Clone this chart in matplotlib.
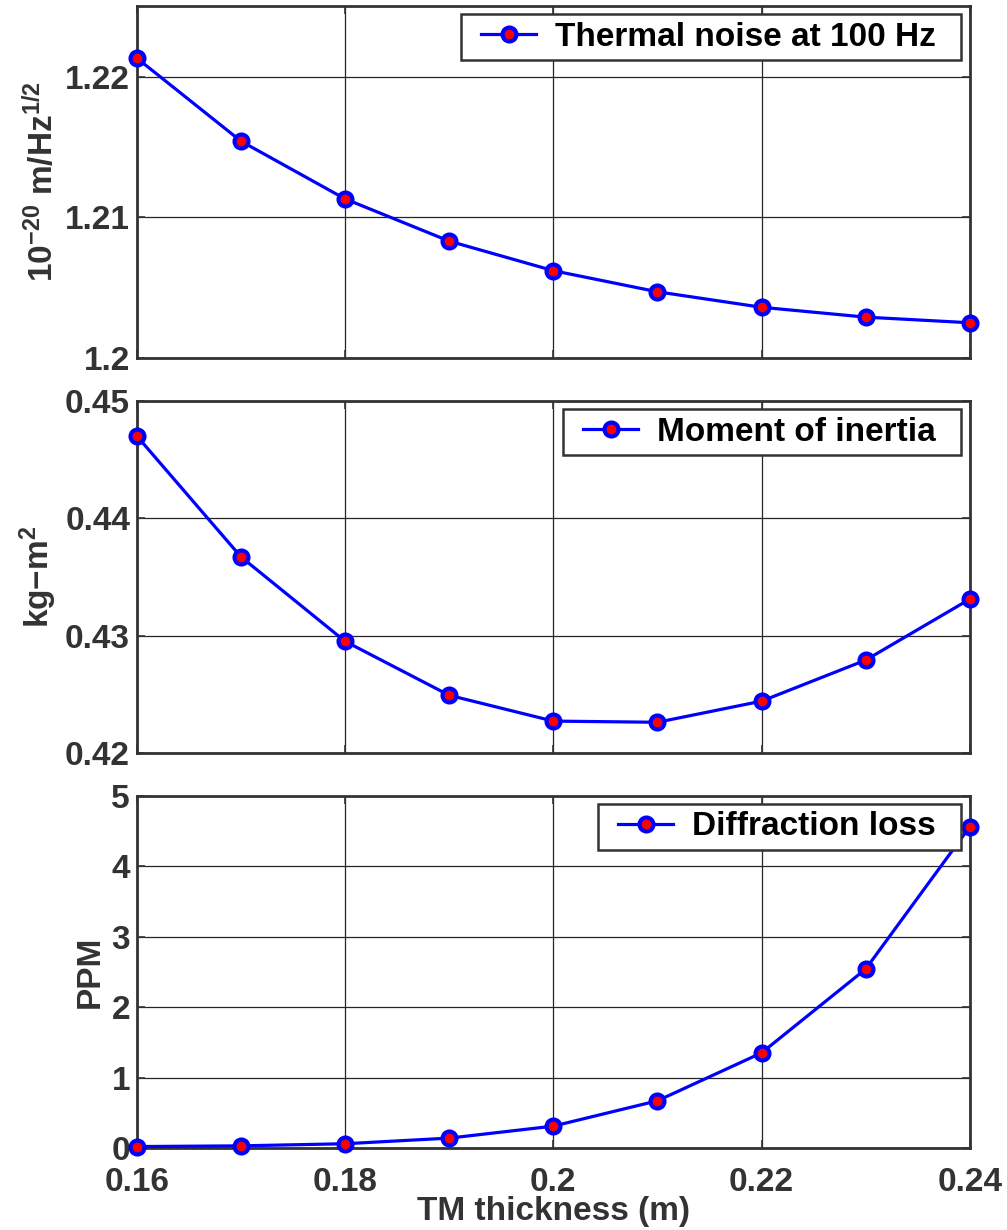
import numpy as np
import matplotlib
matplotlib.use("Agg")
import matplotlib.pyplot as plt
from matplotlib.legend_handler import HandlerLine2D

plt.rcParams['font.family'] = ['Liberation Sans', 'DejaVu Sans']
plt.rcParams['font.weight'] = 'bold'
plt.rcParams['mathtext.fontset'] = 'custom'
plt.rcParams['mathtext.rm'] = 'Liberation Sans:bold'
plt.rcParams['mathtext.bf'] = 'Liberation Sans:bold'
plt.rcParams['mathtext.it'] = 'Liberation Sans:bold'

# data
thickness = [0.16, 0.17, 0.18, 0.19, 0.20, 0.21, 0.22, 0.23, 0.24]
noise = [1.2213, 1.2154, 1.2113, 1.2083, 1.2062, 1.2047, 1.2036, 1.2029, 1.2025]
inertia = [0.4470, 0.4367, 0.4295, 0.4249, 0.4227, 0.4226, 0.4244, 0.4279, 0.4331]
diffraction = [0.02, 0.03, 0.06, 0.14, 0.31, 0.67, 1.35, 2.54, 4.56]

x_ticks = [0.16, 0.18, 0.20, 0.22, 0.24]
x_labels = ['0.16', '0.18', '0.2', '0.22', '0.24']

panels = [
    dict(y=noise, label='Thermal noise at 100 Hz', ylabel=r'$10^{-20}$ m/Hz$^{1/2}$',
         ylim=(1.2, 1.225), ticks=[1.2, 1.21, 1.22], tlabels=['1.2', '1.21', '1.22']),
    dict(y=inertia, label='Moment of inertia', ylabel=r'kg$-$m$^2$',
         ylim=(0.42, 0.45), ticks=[0.42, 0.43, 0.44, 0.45],
         tlabels=['0.42', '0.43', '0.44', '0.45']),
    dict(y=diffraction, label='Diffraction loss', ylabel='PPM',
         ylim=(0, 5), ticks=[0, 1, 2, 3, 4, 5], tlabels=['0', '1', '2', '3', '4', '5']),
]

fig = plt.figure(figsize=(10.07, 12.3), dpi=100)
rects = [[0.136, 0.709, 0.827, 0.286],
         [0.136, 0.388, 0.827, 0.286],
         [0.136, 0.0667, 0.827, 0.2863]]

dark = '#333333'
fs = 24
for i, (p, r) in enumerate(zip(panels, rects)):
    ax = fig.add_axes(r)
    line, = ax.plot(thickness, p['y'], '-o', color='blue', lw=2.3, marker='o', markersize=10,
                    markerfacecolor='red', markeredgecolor='blue', markeredgewidth=3,
                    label=p['label'] + '  ', clip_on=False, zorder=5)
    ax.set_xlim(0.16, 0.24)
    ax.set_ylim(*p['ylim'])
    ax.set_xticks(x_ticks)
    ax.set_yticks(p['ticks'])
    ax.set_yticklabels(p['tlabels'])
    if i == 2:
        ax.set_xticklabels(x_labels)
        ax.set_xlabel('TM thickness (m)', fontsize=fs, fontweight='bold', color=dark, labelpad=-2)
    else:
        ax.set_xticklabels([])
    ax.set_ylabel(p['ylabel'], fontsize=fs, fontweight='bold', color=dark, labelpad=4)
    ax.grid(True, color='#262626', lw=0.9)
    ax.set_axisbelow(True)
    ax.tick_params(direction='in', length=6, width=1.2, colors=dark, labelsize=fs,
                   top=True, right=True)
    ax.tick_params(axis='x', pad=14)
    ax.tick_params(axis='y', pad=5)
    for lab in ax.get_xticklabels() + ax.get_yticklabels():
        lab.set_fontweight('bold')
    for s in ax.spines.values():
        s.set_color(dark)
        s.set_linewidth(2)
    leg = ax.legend(loc='upper right', fontsize=fs, fancybox=False, framealpha=1,
                    edgecolor=dark, borderpad=0.22, handlelength=2.05, borderaxespad=0.25,
                    handletextpad=0.55, handler_map={line: HandlerLine2D(xpad=0.4)})
    leg.get_frame().set_linewidth(1.8)
    leg.set_zorder(10)
    for t in leg.get_texts():
        t.set_fontweight('bold')

fig.savefig('out.png', dpi=100)
